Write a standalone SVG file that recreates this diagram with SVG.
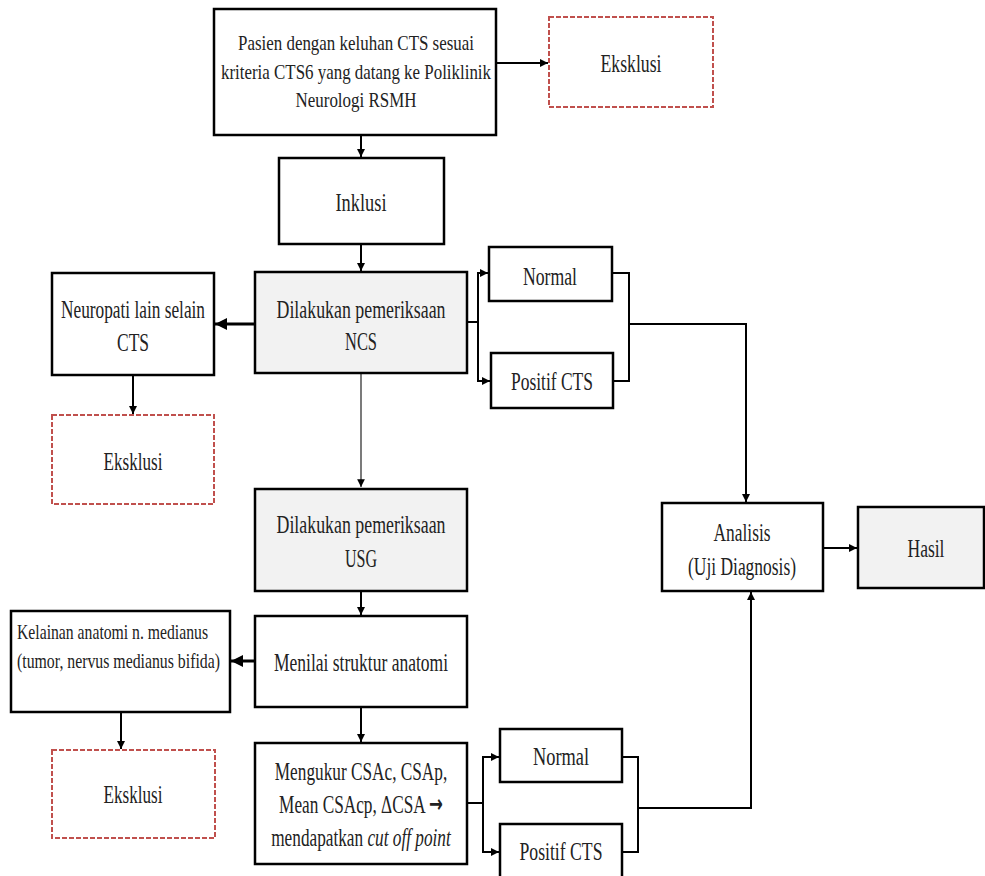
<svg xmlns="http://www.w3.org/2000/svg" width="985" height="876" viewBox="0 0 985 876">
<style>
.box{fill:#fff;stroke:#000;stroke-width:2.5}
.gray{fill:#f2f2f2;stroke:#000;stroke-width:2.5}
.ex{fill:#fff;stroke:#c0504d;stroke-width:2;stroke-dasharray:5 2}
text{font-family:"Liberation Serif","Times New Roman",serif;font-size:25px;fill:#222;text-anchor:middle}
.sm{font-size:22px}
.l{text-anchor:start}
.c{fill:none;stroke:#000;stroke-width:2}
.t{fill:none;stroke:#333;stroke-width:1.3}
</style>
<defs>
<marker id="a" viewBox="0 0 10 10" refX="10" refY="5" markerWidth="4" markerHeight="4" orient="auto" markerUnits="strokeWidth"><path d="M0,0L10,5L0,10z" fill="#000"/></marker>
<marker id="at" viewBox="0 0 10 10" refX="10" refY="5" markerWidth="6" markerHeight="6" orient="auto" markerUnits="strokeWidth"><path d="M0,0L10,5L0,10z" fill="#000"/></marker>
</defs>
<g id="connectors">
<path class="c" d="M496,63H548" marker-end="url(#a)"/>
<path class="c" d="M361,135V157" marker-end="url(#a)"/>
<path class="c" d="M361,244V271" marker-end="url(#a)"/>
<path class="c" d="M255,324H215" marker-end="url(#a)" style="stroke-width:3"/>
<path class="c" d="M133,375V414" marker-end="url(#a)"/>
<path class="t" d="M361,373V487" marker-end="url(#at)"/>
<path class="c" d="M467,322H478V273H488" marker-end="url(#a)"/>
<path class="c" d="M478,322V381H490" marker-end="url(#a)"/>
<path class="c" d="M612,273H629V381H613"/>
<path class="c" d="M629,324H746V502" marker-end="url(#a)"/>
<path class="c" d="M823,548H857" marker-end="url(#a)"/>
<path class="c" d="M361,591V615" marker-end="url(#a)"/>
<path class="c" d="M255,661H231" marker-end="url(#a)" style="stroke-width:3"/>
<path class="c" d="M121,712V749" marker-end="url(#a)"/>
<path class="c" d="M361,707V742" marker-end="url(#a)"/>
<path class="c" d="M467,803H483V757H499" marker-end="url(#a)"/>
<path class="c" d="M483,803V852H499" marker-end="url(#a)"/>
<path class="c" d="M622,757H638V852H622"/>
<path class="c" d="M638,808H751V592" marker-end="url(#a)"/>
</g>
<g id="pasien">
<rect class="box" x="214" y="9" width="282" height="126"/>
<text class="sm" x="356" y="50" textLength="236" lengthAdjust="spacingAndGlyphs">Pasien dengan keluhan CTS sesuai</text>
<text class="sm" x="356" y="79" textLength="270" lengthAdjust="spacingAndGlyphs">kriteria CTS6 yang datang ke Poliklinik</text>
<text class="sm" x="356" y="107" textLength="121" lengthAdjust="spacingAndGlyphs">Neurologi RSMH</text>
</g>
<g id="eksklusi1">
<rect class="ex" x="549" y="17" width="164" height="90"/>
<text x="631" y="72" textLength="61" lengthAdjust="spacingAndGlyphs">Eksklusi</text>
</g>
<g id="inklusi">
<rect class="box" x="279" y="158" width="165" height="86"/>
<text x="361" y="211" textLength="51" lengthAdjust="spacingAndGlyphs">Inklusi</text>
</g>
<g id="ncs">
<rect class="gray" x="255" y="272" width="212" height="101"/>
<text x="361" y="318" textLength="169" lengthAdjust="spacingAndGlyphs">Dilakukan pemeriksaan</text>
<text x="361" y="350" textLength="32" lengthAdjust="spacingAndGlyphs">NCS</text>
</g>
<g id="neuropati">
<rect class="box" x="52" y="273" width="162" height="102"/>
<text x="133" y="318" textLength="144" lengthAdjust="spacingAndGlyphs">Neuropati lain selain</text>
<text x="133" y="351" textLength="32" lengthAdjust="spacingAndGlyphs">CTS</text>
</g>
<g id="eksklusi2">
<rect class="ex" x="52" y="415" width="162" height="89"/>
<text x="133" y="470" textLength="59" lengthAdjust="spacingAndGlyphs">Eksklusi</text>
</g>
<g id="normal1">
<rect class="box" x="489" y="247" width="123" height="54"/>
<text x="550" y="285" textLength="54" lengthAdjust="spacingAndGlyphs">Normal</text>
</g>
<g id="positif1">
<rect class="box" x="491" y="353" width="122" height="55"/>
<text x="552" y="390" textLength="82" lengthAdjust="spacingAndGlyphs">Positif CTS</text>
</g>
<g id="analisis">
<rect class="box" x="662" y="503" width="161" height="88"/>
<text x="742" y="541" textLength="57" lengthAdjust="spacingAndGlyphs">Analisis</text>
<text x="742" y="575" textLength="108" lengthAdjust="spacingAndGlyphs">(Uji Diagnosis)</text>
</g>
<g id="hasil">
<rect class="gray" x="858" y="507" width="126" height="81"/>
<text x="926" y="557" textLength="37" lengthAdjust="spacingAndGlyphs">Hasil</text>
</g>
<g id="usg">
<rect class="gray" x="255" y="489" width="212" height="102"/>
<text x="361" y="533" textLength="169" lengthAdjust="spacingAndGlyphs">Dilakukan pemeriksaan</text>
<text x="361" y="567" textLength="32" lengthAdjust="spacingAndGlyphs">USG</text>
</g>
<g id="menilai">
<rect class="box" x="255" y="616" width="212" height="91"/>
<text x="361" y="671" textLength="174" lengthAdjust="spacingAndGlyphs">Menilai struktur anatomi</text>
</g>
<g id="kelainan">
<rect class="box" x="11" y="611" width="219" height="101"/>
<text class="sm l" x="17" y="639" textLength="191" lengthAdjust="spacingAndGlyphs">Kelainan anatomi n. medianus</text>
<text class="sm l" x="17" y="668" textLength="203" lengthAdjust="spacingAndGlyphs">(tumor, nervus medianus bifida)</text>
</g>
<g id="eksklusi3">
<rect class="ex" x="52" y="750" width="163" height="88"/>
<text x="133" y="803" textLength="59" lengthAdjust="spacingAndGlyphs">Eksklusi</text>
</g>
<g id="mengukur">
<rect class="box" x="255" y="743" width="212" height="121"/>
<g transform="translate(361,0) scale(0.69,1)">
<text x="0" y="780">Mengukur CSAc, CSAp,</text>
<text x="0" y="813">Mean CSAcp, ΔCSA <tspan style="font-family:'DejaVu Sans',sans-serif;font-size:24px;font-weight:bold" dy="-1">→</tspan></text>
<text x="0" y="846">mendapatkan <tspan font-style="italic">cut off point</tspan></text>
</g>
</g>
<g id="normal2">
<rect class="box" x="500" y="729" width="122" height="53"/>
<text x="561" y="765" textLength="56" lengthAdjust="spacingAndGlyphs">Normal</text>
</g>
<g id="positif2">
<rect class="box" x="500" y="824" width="122" height="60"/>
<text x="561" y="860" textLength="83" lengthAdjust="spacingAndGlyphs">Positif CTS</text>
</g>
</svg>
